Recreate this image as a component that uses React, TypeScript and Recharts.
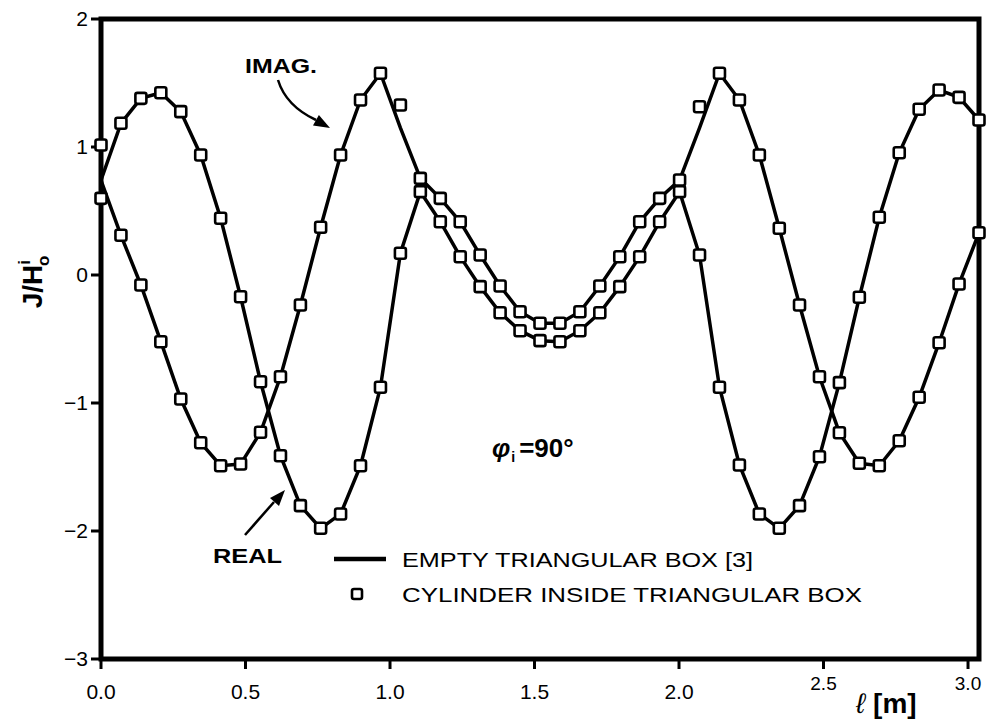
import React from 'react';
import { LineChart, Line, XAxis, YAxis, ReferenceArea } from 'recharts';

// sample positions along the box contour, l [m]
const X_VALUES = [
  0.0, 0.069, 0.138, 0.207, 0.276, 0.345, 0.414, 0.483, 0.552, 0.621, 0.69, 0.76, 0.829, 0.898, 0.967,
  1.036, 1.105, 1.174, 1.243, 1.312, 1.381, 1.45, 1.519, 1.588, 1.657, 1.726, 1.795, 1.864, 1.933, 2.002,
  2.071, 2.14, 2.209, 2.278, 2.347, 2.417, 2.486, 2.555, 2.624, 2.693, 2.762, 2.831, 2.9, 2.969, 3.038,
];

// empty triangular box [3] (solid line)
const REAL_LINE = [
  0.74, 1.185, 1.38, 1.424, 1.276, 0.938, 0.443, -0.17, -0.834, -1.412, -1.802, -1.979, -1.867, -1.49, -0.877,
  0.17, 0.651, 0.416, 0.143, -0.091, -0.295, -0.435, -0.513, -0.521, -0.435, -0.295, -0.091, 0.143, 0.416, 0.651,
  0.156, -0.877, -1.484, -1.867, -1.979, -1.802, -1.42, -0.841, -0.174, 0.451, 0.955, 1.295, 1.445, 1.388, 1.211,
];
const IMAG_LINE = [
  0.74, 0.31, -0.078, -0.521, -0.969, -1.31, -1.49, -1.477, -1.229, -0.795, -0.234, 0.373, 0.938, 1.367, 1.576,
  1.15, 0.755, 0.599, 0.416, 0.156, -0.086, -0.287, -0.377, -0.377, -0.287, -0.086, 0.143, 0.416, 0.599, 0.742,
  1.15, 1.576, 1.367, 0.938, 0.365, -0.234, -0.795, -1.232, -1.471, -1.49, -1.295, -0.955, -0.529, -0.07, 0.33,
];

// cylinder inside triangular box (squares)
const REAL_SQUARES = [
  1.016, 1.185, 1.38, 1.424, 1.276, 0.938, 0.443, -0.17, -0.834, -1.412, -1.802, -1.979, -1.867, -1.49, -0.877,
  0.17, 0.651, 0.416, 0.143, -0.091, -0.295, -0.435, -0.513, -0.521, -0.435, -0.295, -0.091, 0.143, 0.416, 0.651,
  0.156, -0.877, -1.484, -1.867, -1.979, -1.802, -1.42, -0.841, -0.174, 0.451, 0.955, 1.295, 1.445, 1.388, 1.211,
];
const IMAG_SQUARES = [
  0.599, 0.31, -0.078, -0.521, -0.969, -1.31, -1.49, -1.477, -1.229, -0.795, -0.234, 0.373, 0.938, 1.367, 1.576,
  1.328, 0.755, 0.599, 0.416, 0.156, -0.086, -0.287, -0.377, -0.377, -0.287, -0.086, 0.143, 0.416, 0.599, 0.742,
  1.315, 1.576, 1.367, 0.938, 0.365, -0.234, -0.795, -1.232, -1.471, -1.49, -1.295, -0.955, -0.529, -0.07, 0.33,
];

const X_TICKS = [0, 0.5, 1, 1.5, 2, 2.5, 3];
const Y_TICKS = [-3, -2, -1, 0, 1, 2];

const data = X_VALUES.map((x, i) => ({
  x,
  realLine: REAL_LINE[i],
  imagLine: IMAG_LINE[i],
  realSq: REAL_SQUARES[i],
  imagSq: IMAG_SQUARES[i],
}));

const FONT = '"Liberation Sans", Arial, sans-serif';

const square = (props: any) => {
  const { cx, cy, index } = props;
  if (cx == null || cy == null) return <g key={index} />;
  return (
    <rect key={index} x={cx - 5.5} y={cy - 5.5} width={11} height={11} rx={2}
      fill="#fff" stroke="#000" strokeWidth={2.6} />
  );
};

const XTick = (props: any) => {
  const { x, y, payload } = props;
  const raised = payload.value >= 2.5;
  return (
    <text x={x} y={raised ? y - 7 : y} dy="0.71em" textAnchor="middle"
      fontFamily={FONT} fontSize={raised ? 19 : 21} fill="#000">
      {payload.value.toFixed(1)}
    </text>
  );
};

const fmtY = (v: number) => (v < 0 ? '\u2212' + Math.abs(v) : String(v));

export default function App() {
  return (
    <div style={{ position: 'absolute', left: 0, top: 0, width: 992, height: 719, background: '#fff' }}>
      <LineChart width={992} height={719} data={data}
        margin={{ top: 19, right: 13, bottom: 10, left: 41 }}>
        <XAxis dataKey="x" type="number" domain={[0, 3.038]} ticks={X_TICKS}
          axisLine={false} tickSize={10} tickMargin={15} height={50}
          tickLine={{ stroke: '#000', strokeWidth: 3 }} tick={<XTick />} />
        <YAxis type="number" domain={[-3, 2]} ticks={Y_TICKS} width={60}
          axisLine={false} tickSize={10} tickMargin={3} tickFormatter={fmtY}
          tickLine={{ stroke: '#000', strokeWidth: 3 }}
          tick={{ fill: '#000', fontSize: 21, fontFamily: FONT }} />
        <ReferenceArea x1={0} x2={3.038} y1={-3} y2={2} fill="none" fillOpacity={0}
          stroke="#000" strokeWidth={5} ifOverflow="visible" />
        <Line dataKey="realLine" type="linear" stroke="#000" strokeWidth={3.5}
          dot={false} activeDot={false} isAnimationActive={false} />
        <Line dataKey="imagLine" type="linear" stroke="#000" strokeWidth={3.5}
          dot={false} activeDot={false} isAnimationActive={false} />
        <Line dataKey="realSq" type="linear" stroke="none" strokeWidth={0}
          dot={square} activeDot={false} isAnimationActive={false} />
        <Line dataKey="imagSq" type="linear" stroke="none" strokeWidth={0}
          dot={square} activeDot={false} isAnimationActive={false} />
      </LineChart>

      <svg width={992} height={719} style={{ position: 'absolute', left: 0, top: 0, pointerEvents: 'none' }}>
        <g fontFamily={FONT} fill="#000">
          {/* y axis title */}
          <text transform="translate(42,282) rotate(-90)" textAnchor="middle" fontSize={28} fontWeight="bold">
            J/H<tspan fontSize={17} dy={-12}>i</tspan><tspan fontSize={17} dx={-6} dy={19}>o</tspan>
          </text>

          {/* x axis title */}
          <text x={856} y={713} fontSize={28}>
            <tspan fontStyle="italic">ℓ</tspan><tspan dx={8} fontWeight="bold">[m]</tspan>
          </text>

          {/* IMAG. annotation */}
          <text x={245} y={73} fontSize={21} fontWeight="bold" textLength={72} lengthAdjust="spacingAndGlyphs">IMAG.</text>
          <path d="M278 80 Q286 106 316 120" fill="none" stroke="#000" strokeWidth={2.5} />
          <polygon points="330,128 313,125.4 318.9,114.9" />

          {/* REAL annotation */}
          <text x={213} y={563} fontSize={21} fontWeight="bold" textLength={69} lengthAdjust="spacingAndGlyphs">REAL</text>
          <line x1={245} y1={535} x2={274} y2={502} stroke="#000" strokeWidth={2.5} />
          <polygon points="285,490 279,506 270,498" />

          {/* incidence angle */}
          <text x={492} y={457} fontSize={26} fontWeight="bold">
            <tspan fontStyle="italic">φ</tspan>
            <tspan fontSize={14} dx={1} dy={5}>i</tspan>
            <tspan dx={4} dy={-5}>=90°</tspan>
          </text>

          {/* legend */}
          <line x1={334} y1={559} x2={386} y2={559} stroke="#000" strokeWidth={4.5} />
          <text x={402} y={567} fontSize={21} textLength={351} lengthAdjust="spacingAndGlyphs">EMPTY TRIANGULAR BOX [3]</text>
          <rect x={352} y={589} width={10} height={10} rx={2} fill="#fff" stroke="#000" strokeWidth={2.6} />
          <text x={402} y={602} fontSize={21} textLength={460} lengthAdjust="spacingAndGlyphs">CYLINDER INSIDE TRIANGULAR BOX</text>
        </g>
      </svg>
    </div>
  );
}
